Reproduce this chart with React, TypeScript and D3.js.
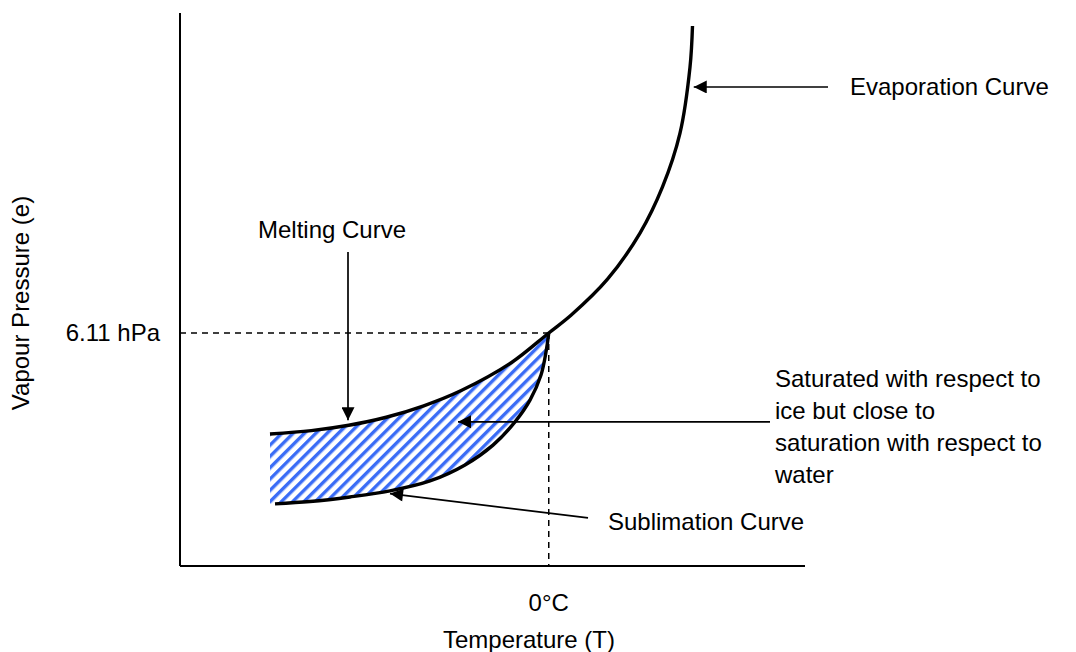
import React from 'react';
import * as d3 from 'd3';

// saturation curve over water (evaporation curve, incl. supercooled part)
const waterT = [-22.3, -19, -16, -13, -10, -7, -3, 0, 1.8, 4.7, 7.3, 9.1, 10.5, 11.3, 11.5];
const waterE = [3.46, 3.55, 3.69, 3.9, 4.2, 4.6, 5.33, 6.11, 6.58, 7.52, 8.73, 9.94, 11.35, 13.08, 14.16];

// saturation curve over ice (sublimation curve)
const iceT = [-21.9, -19.1, -15.9, -12.7, -9.5, -6.7, -4.46, -2.7, -1.5, -0.62, -0.22, 0];
const iceE = [1.63, 1.69, 1.81, 1.97, 2.23, 2.65, 3.17, 3.78, 4.35, 5.01, 5.61, 6.11];

const tripleT = 0;
const tripleE = 6.11;
const xTickLabel = '0°C';
const yTickLabel = '6.11 hPa';

// arrows: [fromT, fromE, toT, toE]
const arrowEvap = [22.34, 12.56, 11.6, 12.56];
const arrowMelt = [-16.06, 8.23, -16.06, 3.82];
const arrowHatch = [17.7, 3.78, -7.26, 3.78];
const arrowSubl = [3.14, 1.26, -12.7, 1.9];

const regionLines = [
  'Saturated with respect to',
  'ice but close to',
  'saturation with respect to',
  'water',
];

const W = 1076;
const H = 652;
const FONT = 'Liberation Sans, Arial, sans-serif';

export default function App() {
  const x = d3.scaleLinear().domain([-29.5, 20.5]).range([180, 805]);
  const y = d3.scaleLinear().domain([0, 14.5]).range([566, 13]);

  const water = waterT.map((t, i) => [t, waterE[i]] as [number, number]);
  const ice = iceT.map((t, i) => [t, iceE[i]] as [number, number]);

  const line = d3
    .line<[number, number]>()
    .x((d) => x(d[0]))
    .y((d) => y(d[1]))
    .curve(d3.curveCatmullRom.alpha(0.5));

  const waterPath = line(water) || '';
  const icePath = line(ice) || '';

  // hatched region between the two curves, left of the triple point
  const upper = water.filter((d) => d[0] <= tripleT);
  const lowerRev = ice.slice().reverse();
  const regionPath =
    (line(upper) || '') +
    (line(lowerRev) || '').replace(/^M/, 'L') +
    `L${x(waterT[0])},${y(iceE[0])}Z`;

  const arrow = (a: number[], key: string) => (
    <line
      key={key}
      x1={x(a[0])}
      y1={y(a[1])}
      x2={x(a[2])}
      y2={y(a[3])}
      stroke="#000"
      strokeWidth={1.7}
      markerEnd="url(#head)"
    />
  );

  const x0 = x.range()[0];
  const x1 = x.range()[1];
  const yb = y.range()[0];
  const yt = y.range()[1];

  return (
    <svg
      width={W}
      height={H}
      style={{ position: 'absolute', left: 0, top: 0, background: '#fff' }}
      fontFamily={FONT}
    >
      <defs>
        <pattern
          id="hatch"
          patternUnits="userSpaceOnUse"
          width={8}
          height={8}
          patternTransform="rotate(45)"
        >
          <rect width={8} height={8} fill="#fff" />
          <rect x={0} y={0} width={3.4} height={8} fill="#3a6cf6" />
        </pattern>
        <marker
          id="head"
          viewBox="0 0 10 10"
          refX={10}
          refY={5}
          markerUnits="userSpaceOnUse"
          markerWidth={15}
          markerHeight={13}
          orient="auto"
        >
          <path d="M0,0L10,5L0,10Z" fill="#000" />
        </marker>
      </defs>

      {/* axes */}
      <line x1={x0} y1={yt} x2={x0} y2={yb} stroke="#000" strokeWidth={2} />
      <line x1={x0} y1={yb} x2={x1} y2={yb} stroke="#000" strokeWidth={2} />

      {/* triple point guides */}
      <line
        x1={x0}
        y1={y(tripleE)}
        x2={x(tripleT)}
        y2={y(tripleE)}
        stroke="#000"
        strokeWidth={1.5}
        strokeDasharray="6,5"
      />
      <line
        x1={x(tripleT)}
        y1={y(tripleE)}
        x2={x(tripleT)}
        y2={yb}
        stroke="#000"
        strokeWidth={1.5}
        strokeDasharray="6,5"
      />

      <path d={regionPath} fill="url(#hatch)" stroke="none" />
      <path d={waterPath} fill="none" stroke="#000" strokeWidth={3.4} />
      <path d={icePath} fill="none" stroke="#000" strokeWidth={3.4} />

      {arrow(arrowEvap, 'evap')}
      {arrow(arrowMelt, 'melt')}
      {arrow(arrowHatch, 'hatch')}
      {arrow(arrowSubl, 'subl')}

      <g fontSize={24} fill="#000">
        <text x={x0 - 20} y={y(tripleE)} textAnchor="end" dominantBaseline="central">
          {yTickLabel}
        </text>
        <text x={x(tripleT)} y={602} textAnchor="middle" dominantBaseline="central">
          {xTickLabel}
        </text>
        <text x={529} y={639} textAnchor="middle" dominantBaseline="central">
          Temperature (T)
        </text>
        <text
          transform="translate(20,303) rotate(-90)"
          textAnchor="middle"
          dominantBaseline="central"
        >
          Vapour Pressure (e)
        </text>
        <text x={x(arrowEvap[0]) + 22} y={y(arrowEvap[1])} dominantBaseline="central">
          Evaporation Curve
        </text>
        <text x={332} y={229} textAnchor="middle" dominantBaseline="central">
          Melting Curve
        </text>
        {regionLines.map((s, i) => (
          <text key={s} x={775} y={378 + i * 32} dominantBaseline="central">
            {s}
          </text>
        ))}
        <text x={608} y={521} dominantBaseline="central">
          Sublimation Curve
        </text>
      </g>
    </svg>
  );
}
